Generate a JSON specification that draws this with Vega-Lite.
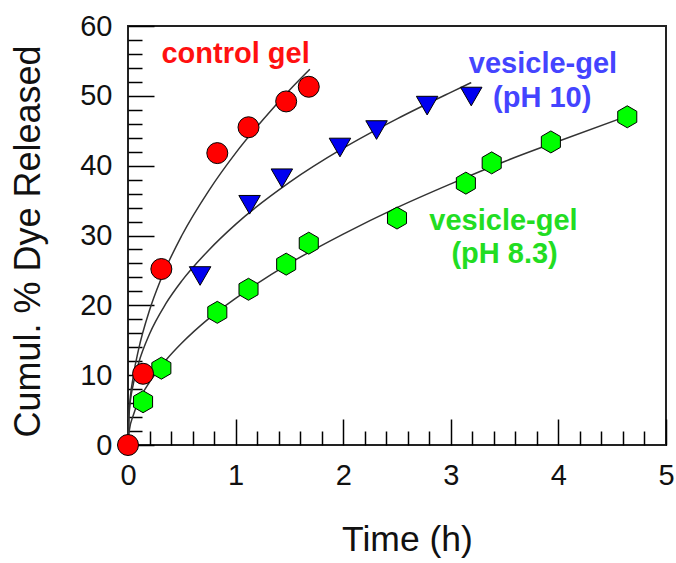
{
  "$schema": "https://vega.github.io/schema/vega-lite/v6.json",
  "width": 538,
  "height": 419,
  "autosize": "none",
  "padding": {"left": 128, "top": 26, "right": 10, "bottom": 118},
  "background": "white",
  "config": {
    "view": {"stroke": "#222", "strokeWidth": 2},
    "font": "Liberation Sans",
    "axis": {"grid": false, "domain": false, "tickColor": "#000", "tickWidth": 1.5, "labelColor": "#111", "titleColor": "#111", "titleFontWeight": "normal", "labelOverlap": false, "labelFlush": false, "labelBound": false}
  },
  "resolve": {"axis": {"x": "independent", "y": "independent"}},
  "datasets": {
    "curves": [
      {"series": "control", "t": 0, "v": 0},
      {"series": "control", "t": 0.01, "v": 4.6},
      {"series": "control", "t": 0.05, "v": 9.9},
      {"series": "control", "t": 0.1, "v": 13.8},
      {"series": "control", "t": 0.2, "v": 19.3},
      {"series": "control", "t": 0.3, "v": 23.5},
      {"series": "control", "t": 0.5, "v": 30.0},
      {"series": "control", "t": 0.75, "v": 36.4},
      {"series": "control", "t": 1.0, "v": 41.8},
      {"series": "control", "t": 1.25, "v": 46.5},
      {"series": "control", "t": 1.5, "v": 50.8},
      {"series": "control", "t": 1.69, "v": 53.8},
      {"series": "ph10", "t": 0, "v": 0},
      {"series": "ph10", "t": 0.01, "v": 4.4},
      {"series": "ph10", "t": 0.05, "v": 8.8},
      {"series": "ph10", "t": 0.1, "v": 11.8},
      {"series": "ph10", "t": 0.2, "v": 15.9},
      {"series": "ph10", "t": 0.35, "v": 20.2},
      {"series": "ph10", "t": 0.5, "v": 23.5},
      {"series": "ph10", "t": 0.75, "v": 27.9},
      {"series": "ph10", "t": 1.0, "v": 31.6},
      {"series": "ph10", "t": 1.5, "v": 37.6},
      {"series": "ph10", "t": 2.0, "v": 42.5},
      {"series": "ph10", "t": 2.5, "v": 46.7},
      {"series": "ph10", "t": 3.0, "v": 50.5},
      {"series": "ph10", "t": 3.19, "v": 51.9},
      {"series": "ph83", "t": 0, "v": 0},
      {"series": "ph83", "t": 0.01, "v": 1.9},
      {"series": "ph83", "t": 0.05, "v": 4.3},
      {"series": "ph83", "t": 0.1, "v": 6.3},
      {"series": "ph83", "t": 0.2, "v": 9.0},
      {"series": "ph83", "t": 0.35, "v": 12.1},
      {"series": "ph83", "t": 0.5, "v": 14.6},
      {"series": "ph83", "t": 0.75, "v": 18.1},
      {"series": "ph83", "t": 1.0, "v": 21.0},
      {"series": "ph83", "t": 1.5, "v": 26.0},
      {"series": "ph83", "t": 2.0, "v": 30.2},
      {"series": "ph83", "t": 2.5, "v": 34.0},
      {"series": "ph83", "t": 3.0, "v": 37.4},
      {"series": "ph83", "t": 3.5, "v": 40.6},
      {"series": "ph83", "t": 4.0, "v": 43.5},
      {"series": "ph83", "t": 4.64, "v": 47.1}
    ],
    "points": [
      {"series": "ph83", "t": 0.14, "v": 6.2},
      {"series": "ph83", "t": 0.31, "v": 11.0},
      {"series": "ph83", "t": 0.83, "v": 19.0},
      {"series": "ph83", "t": 1.12, "v": 22.3},
      {"series": "ph83", "t": 1.47, "v": 25.9},
      {"series": "ph83", "t": 1.68, "v": 28.9},
      {"series": "ph83", "t": 2.5, "v": 32.5},
      {"series": "ph83", "t": 3.14, "v": 37.5},
      {"series": "ph83", "t": 3.38, "v": 40.4},
      {"series": "ph83", "t": 3.93, "v": 43.4},
      {"series": "ph83", "t": 4.64, "v": 47.0},
      {"series": "ph10", "t": 0.67, "v": 24.2},
      {"series": "ph10", "t": 1.13, "v": 34.4},
      {"series": "ph10", "t": 1.43, "v": 38.2},
      {"series": "ph10", "t": 1.97, "v": 42.6},
      {"series": "ph10", "t": 2.31, "v": 45.1},
      {"series": "ph10", "t": 2.78, "v": 48.6},
      {"series": "ph10", "t": 3.19, "v": 49.9},
      {"series": "control", "t": 0, "v": 0},
      {"series": "control", "t": 0.14, "v": 10.2},
      {"series": "control", "t": 0.31, "v": 25.2},
      {"series": "control", "t": 0.83, "v": 41.8},
      {"series": "control", "t": 1.12, "v": 45.5},
      {"series": "control", "t": 1.47, "v": 49.2},
      {"series": "control", "t": 1.68, "v": 51.3}
    ],
    "labels": [
      {"series": "control", "text": "control gel", "t": 1.0, "v": 54.7},
      {"series": "ph10", "text": "vesicle-gel", "t": 3.857, "v": 53.3},
      {"series": "ph10", "text": "(pH 10)", "t": 3.85, "v": 48.4},
      {"series": "ph83", "text": "vesicle-gel", "t": 3.49, "v": 30.8},
      {"series": "ph83", "text": "(pH 8.3)", "t": 3.5, "v": 26.1}
    ]
  },
  "layer": [
    {
      "data": {"name": "curves"},
      "mark": {"type": "line", "color": "#333", "strokeWidth": 1.5, "interpolate": "monotone"},
      "encoding": {
        "x": {
          "field": "t", "type": "quantitative",
          "scale": {"domain": [0, 5], "nice": false, "zero": false},
          "axis": {
            "orient": "bottom",
            "title": "Time (h)",
            "titleFontSize": 35.5,
            "titleBaseline": "alphabetic", "titleY": 131, "titleX": 279,
            "values": [0, 1, 2, 3, 4, 5],
            "labelFontSize": 29,
            "offset": -26, "tickSize": 26,
            "labelPadding": 16
          }
        },
        "y": {
          "field": "v", "type": "quantitative",
          "scale": {"domain": [0, 60], "nice": false},
          "axis": {
            "orient": "left",
            "title": "Cumul. % Dye Released",
            "titleFontSize": 36,
            "titleBaseline": "alphabetic", "titleX": -115, "titleY": 215,
            "values": [0, 10, 20, 30, 40, 50, 60],
            "labelFontSize": 29,
            "offset": -26, "tickSize": 26,
            "labelPadding": 16
          }
        },
        "detail": {"field": "series"}
      }
    },
    {
      "data": {"name": "points"},
      "mark": {"type": "point", "filled": true, "opacity": 1, "stroke": "#000", "strokeWidth": 1},
      "encoding": {
        "x": {
          "field": "t", "type": "quantitative",
          "axis": {
            "orient": "bottom", "title": null, "labels": false,
            "values": [0.2,0.4,0.6,0.8,1.2,1.4,1.6,1.8,2.2,2.4,2.6,2.8,3.2,3.4,3.6,3.8,4.2,4.4,4.6,4.8],
            "offset": -14, "tickSize": 14
          }
        },
        "y": {
          "field": "v", "type": "quantitative",
          "axis": {
            "orient": "left", "title": null, "labels": false,
            "values": [2,4,6,8,12,14,16,18,22,24,26,28,32,34,36,38,42,44,46,48,52,54,56,58],
            "offset": -14, "tickSize": 14
          }
        },
        "shape": {
          "field": "series", "type": "nominal", "legend": null,
          "scale": {"domain": ["control", "ph10", "ph83"], "range": ["circle", "triangle-down", "M0,-1L0.866,-0.5L0.866,0.5L0,1L-0.866,0.5L-0.866,-0.5Z"]}
        },
        "fill": {
          "field": "series", "type": "nominal", "legend": null,
          "scale": {"domain": ["control", "ph10", "ph83"], "range": ["#ff0000", "#0000f0", "#00ff00"]}
        },
        "size": {
          "field": "series", "type": "nominal", "legend": null,
          "scale": {"domain": ["control", "ph10", "ph83"], "range": [441, 484, 470]}
        }
      }
    },
    {
      "data": {"name": "labels"},
      "mark": {"type": "text", "fontSize": 29, "fontWeight": "bold", "align": "center", "baseline": "alphabetic"},
      "encoding": {
        "x": {"field": "t", "type": "quantitative", "axis": null},
        "y": {"field": "v", "type": "quantitative", "axis": null},
        "text": {"field": "text"},
        "color": {
          "field": "series", "type": "nominal", "legend": null,
          "scale": {"domain": ["control", "ph10", "ph83"], "range": ["#ff1010", "#4444ff", "#22dd22"]}
        }
      }
    }
  ]
}
